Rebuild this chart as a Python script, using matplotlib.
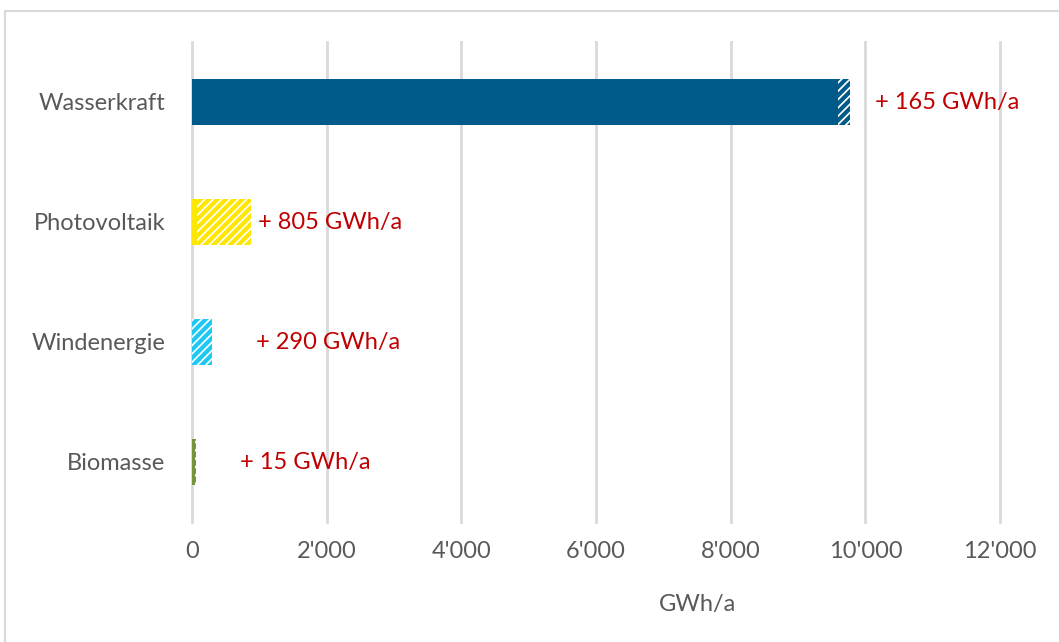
import matplotlib
matplotlib.use('Agg')
import matplotlib.pyplot as plt
from matplotlib.patches import Rectangle
from matplotlib.ticker import FuncFormatter

plt.rcParams['font.family'] = ['Lato', 'DejaVu Sans']
plt.rcParams['hatch.linewidth'] = 3.0

# data
categories = ['Wasserkraft', 'Photovoltaik', 'Windenergie', 'Biomasse']
bestand = [9600, 70, 5, 50]          # GWh/a existing (solid)
zubau = [165, 805, 290, 15]           # GWh/a additional (hatched)
labels = ['+ 165 GWh/a', '+ 805 GWh/a', '+ 290 GWh/a', '+ 15 GWh/a']
label_x = [10150, 980, 950, 710]
colors = ['#005A8A', '#FFE600', '#1EC8F5', '#77933C']
xticks = [0, 2000, 4000, 6000, 8000, 10000, 12000]

fig = plt.figure(figsize=(10.59, 6.42), dpi=100)
ax = fig.add_axes([192 / 1059, 120 / 642, 808 / 1059, 480 / 642])

ypos = list(range(len(categories)))[::-1]
ax.barh(ypos, bestand, height=0.39, color=colors, edgecolor='none')
for y, b, z, c in zip(ypos, bestand, zubau, colors):
    ax.barh(y, z, left=b, height=0.39, color='white', edgecolor=c,
            hatch='////', linewidth=0)

for y, txt, lx in zip(ypos, labels, label_x):
    ax.text(lx, y, txt, color='#C00000', fontsize=17, va='center', ha='left')

ax.set_xlim(0, 12000)
ax.set_ylim(-0.5, 3.5)
ax.set_xticks(xticks)
ax.xaxis.set_major_formatter(FuncFormatter(lambda v, p: f'{int(v):,}'.replace(',', "'")))
ax.set_yticks(ypos)
ax.set_yticklabels(categories)
ax.tick_params(length=0, labelsize=17, labelcolor='#595959')
ax.tick_params(axis='x', pad=14)
ax.tick_params(axis='y', pad=19)
ax.grid(axis='x', color='#D9D9D9', linewidth=2, clip_on=False)
ax.set_axisbelow(True)
for s in ax.spines.values():
    s.set_visible(False)

fig.text(697 / 1059, 1 - 605 / 642, 'GWh/a', ha='center', va='center',
         fontsize=17, color='#595959')

fig.patches.append(Rectangle((5 / 1059, -0.1), 1.1, 1 - 11 / 642 + 0.1,
                             transform=fig.transFigure, fill=False,
                             edgecolor='#D9D9D9', linewidth=1.5))

fig.savefig('out.png', dpi=100)
